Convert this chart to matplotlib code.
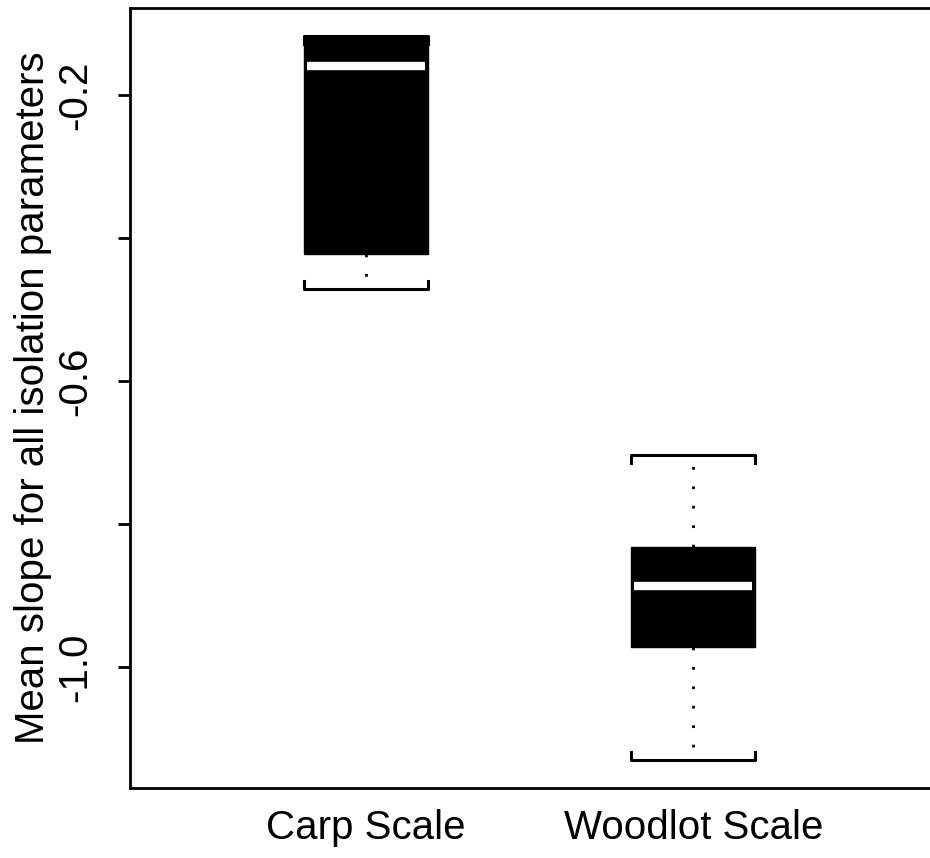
import matplotlib
matplotlib.use("Agg")
import matplotlib.pyplot as plt

# ------------------ Datos del boxplot ------------------
groups = ["Carp Scale", "Woodlot Scale"]
positions = [1, 2]
whisker_low = [-0.471, -1.130]
q1 = [-0.422, -0.972]
median = [-0.159, -0.887]
q3 = [-0.1175, -0.832]
whisker_high = [-0.1175, -0.7035]

y_ticks = [-1.0, -0.8, -0.6, -0.4, -0.2]
y_tick_labels = ["-1.0", "", "-0.6", "", "-0.2"]

plt.rcParams["font.family"] = ["Liberation Sans", "DejaVu Sans"]

fig = plt.figure(figsize=(9.3, 8.58), dpi=100)
ax = fig.add_axes([130 / 930, 70 / 858, 1 - 130 / 930 + 0.01, 780 / 858])

stats = []
for i in range(len(groups)):
    stats.append({"label": groups[i], "whislo": whisker_low[i], "q1": q1[i],
                  "med": median[i], "q3": q3[i], "whishi": whisker_high[i], "fliers": []})

bp = ax.bxp(stats, positions=positions, widths=0.38, patch_artist=True,
            showfliers=False, capwidths=0.38,
            boxprops=dict(facecolor="black", edgecolor="black", linewidth=1),
            medianprops=dict(color="white", linewidth=6, solid_capstyle="butt"),
            whiskerprops=dict(color="black", linewidth=2, linestyle=(0, (1, 6))),
            capprops=dict(color="black", linewidth=2.2))

# ganchos en los extremos de los caps (estilo bracket)
hook = 0.011
for k, cap in enumerate(bp["caps"]):
    xs, ys = cap.get_data()
    y = ys[0]
    d = hook if k % 2 == 0 else -hook
    cap.set_data([xs[0], xs[0], xs[1], xs[1]], [y + d, y, y, y + d])

# mediana un poco mas corta que la caja
for m in bp["medians"]:
    xs, ys = m.get_data()
    m.set_data([xs[0] + 0.01, xs[1] - 0.01], ys)

ax.set_xlim(0.2783, 2.752)
ax.set_ylim(-1.169, -0.0783)
ax.spines["right"].set_visible(False)
for s in ["left", "top", "bottom"]:
    ax.spines[s].set_linewidth(2)

ax.set_yticks(y_ticks)
ax.set_yticklabels(y_tick_labels, rotation=90, va="center", fontsize=29)
ax.tick_params(axis="y", length=9, width=2, pad=17)
ax.set_xticks(positions)
ax.set_xticklabels(groups, fontsize=29)
ax.tick_params(axis="x", length=0, pad=15)
ax.set_ylabel("Mean slope for all isolation parameters", fontsize=29, labelpad=3)

fig.savefig("out.png", dpi=100)
